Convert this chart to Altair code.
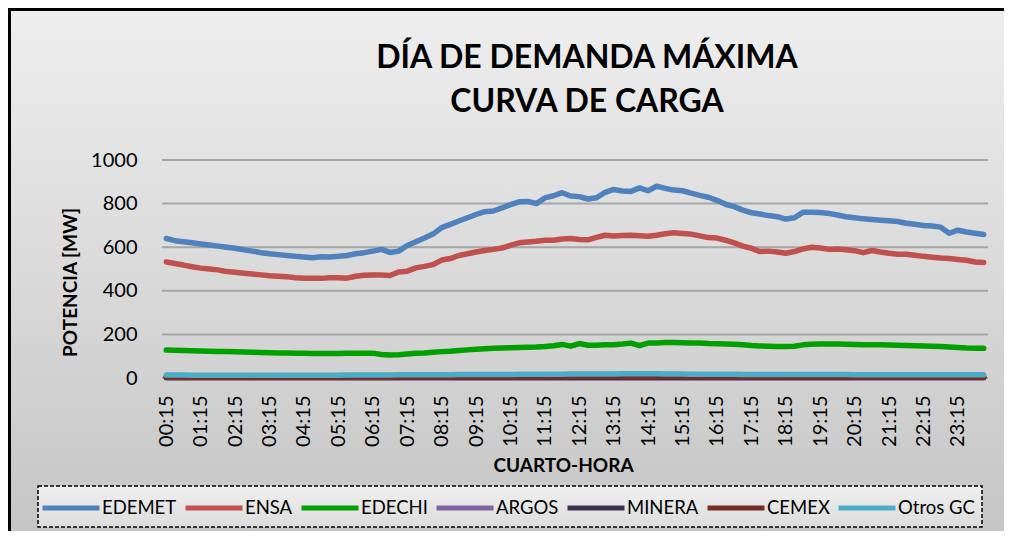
import altair as alt
import pandas as pd

TIMES = [
    "00:15", "00:30", "00:45", "01:00", "01:15", "01:30", "01:45", "02:00", "02:15", "02:30", "02:45", "03:00",
    "03:15", "03:30", "03:45", "04:00", "04:15", "04:30", "04:45", "05:00", "05:15", "05:30", "05:45", "06:00",
    "06:15", "06:30", "06:45", "07:00", "07:15", "07:30", "07:45", "08:00", "08:15", "08:30", "08:45", "09:00",
    "09:15", "09:30", "09:45", "10:00", "10:15", "10:30", "10:45", "11:00", "11:15", "11:30", "11:45", "12:00",
    "12:15", "12:30", "12:45", "13:00", "13:15", "13:30", "13:45", "14:00", "14:15", "14:30", "14:45", "15:00",
    "15:15", "15:30", "15:45", "16:00", "16:15", "16:30", "16:45", "17:00", "17:15", "17:30", "17:45", "18:00",
    "18:15", "18:30", "18:45", "19:00", "19:15", "19:30", "19:45", "20:00", "20:15", "20:30", "20:45", "21:00",
    "21:15", "21:30", "21:45", "22:00", "22:15", "22:30", "22:45", "23:00", "23:15", "23:30", "23:45", "24:00",
]

TICK_LABELS = [
    "00:15", "01:15", "02:15", "03:15", "04:15", "05:15", "06:15", "07:15", "08:15", "09:15", "10:15", "11:15",
    "12:15", "13:15", "14:15", "15:15", "16:15", "17:15", "18:15", "19:15", "20:15", "21:15", "22:15", "23:15",
]

Y_TICKS = [0, 200, 400, 600, 800, 1000]

EDEMET = [
    640, 630, 625, 620, 615, 610, 605, 600, 595, 588, 582, 575,
    570, 566, 562, 558, 555, 552, 556, 555, 558, 562, 570, 575,
    582, 590, 576, 582, 608, 625, 642, 660, 690, 705, 720, 735,
    750, 763, 766, 780, 795, 808, 810, 800, 826, 836, 850, 835,
    832, 821, 827, 852, 865, 858, 856, 872, 859, 880, 870, 862,
    859, 848, 838, 829, 815, 797, 786, 770, 758, 752, 745, 740,
    729, 735, 760, 760, 759, 755, 748, 740, 735, 730, 727, 724,
    721, 718, 710, 705, 700, 697, 692, 664, 678, 670, 664, 658,
]

ENSA = [
    532, 525, 518, 510, 504, 500, 496, 488, 485, 481, 477, 473,
    469, 467, 465, 460, 458, 458, 457, 460, 460, 458, 467, 471,
    473, 472, 470, 486, 490, 505, 512, 520, 541, 548, 562, 570,
    578, 585, 590, 596, 608, 620, 624, 627, 632, 632, 638, 640,
    635, 634, 645, 655, 651, 654, 655, 653, 650, 655, 662, 666,
    663, 660, 652, 644, 642, 632, 620, 605, 595, 580, 582, 578,
    572, 580, 592, 600, 596, 590, 592, 588, 584, 575, 585, 578,
    572, 568, 568, 563, 558, 554, 550, 548, 544, 540, 532, 530,
]

EDECHI = [
    128, 127, 126, 125, 124, 123, 122, 121, 120, 119, 118, 117,
    116, 115, 115, 114, 113, 112, 112, 112, 112, 113, 113, 114,
    114, 108, 106, 107, 110, 113, 115, 118, 121, 123, 126, 129,
    132, 134, 136, 138, 139, 140, 141, 142, 144, 148, 154, 146,
    158, 150, 150, 152, 153, 156, 160, 148, 160, 161, 163, 163,
    162, 161, 160, 158, 157, 156, 155, 152, 149, 147, 146, 145,
    145, 146, 152, 155, 156, 156, 156, 155, 154, 153, 153, 152,
    151, 150, 149, 148, 147, 146, 144, 142, 140, 138, 137, 136,
]

ARGOS = [
    1, 1, 1, 1, 1, 1, 1, 1, 1, 1, 1, 1,
    1, 1, 1, 1, 1, 1, 1, 1, 1, 1, 1, 1,
    1, 1, 1, 1, 1, 1, 1, 1, 1, 1, 1, 1,
    1, 1, 1, 1, 1, 1, 1, 1, 1, 1, 1, 1,
    1, 1, 1, 1, 1, 1, 1, 1, 1, 1, 1, 1,
    1, 1, 1, 1, 1, 1, 1, 1, 1, 1, 1, 1,
    1, 1, 1, 1, 1, 1, 1, 1, 1, 1, 1, 1,
    1, 1, 1, 1, 1, 1, 1, 1, 1, 1, 1, 1,
]

MINERA = [
    2, 2, 2, 2, 2, 2, 2, 2, 2, 2, 2, 2,
    2, 2, 2, 2, 2, 2, 2, 2, 2, 2, 2, 2,
    2, 2, 2, 2, 2, 2, 2, 2, 2, 2, 2, 2,
    2, 2, 2, 2, 2, 2, 2, 2, 2, 2, 2, 2,
    2, 2, 2, 2, 2, 2, 2, 2, 2, 2, 2, 2,
    2, 2, 2, 2, 2, 2, 2, 2, 2, 2, 2, 2,
    2, 2, 2, 2, 2, 2, 2, 2, 2, 2, 2, 2,
    2, 2, 2, 2, 2, 2, 2, 2, 2, 2, 2, 2,
]

CEMEX = [
    3, 3, 3, 3, 3, 3, 3, 3, 3, 3, 3, 3,
    3, 3, 3, 3, 3, 3, 3, 3, 3, 3, 3, 3,
    3, 4, 4, 4, 4, 4, 4, 4, 4, 4, 4, 5,
    5, 5, 5, 5, 5, 5, 5, 5, 5, 6, 6, 6,
    6, 6, 6, 6, 6, 6, 6, 7, 6, 6, 6, 6,
    6, 6, 5, 5, 5, 5, 5, 5, 5, 5, 5, 5,
    4, 4, 4, 4, 4, 4, 4, 4, 4, 4, 4, 4,
    4, 4, 4, 4, 4, 4, 4, 4, 4, 4, 4, 4,
]

OTROS_GC = [
    14, 14, 14, 13, 13, 13, 13, 13, 13, 13, 13, 13,
    13, 13, 13, 13, 13, 13, 13, 13, 13, 14, 14, 14,
    14, 14, 14, 15, 15, 15, 15, 15, 15, 15, 16, 16,
    16, 16, 16, 16, 16, 17, 17, 17, 17, 17, 17, 18,
    18, 18, 18, 18, 18, 19, 19, 19, 19, 19, 18, 18,
    18, 17, 17, 17, 17, 17, 17, 16, 16, 16, 16, 16,
    16, 16, 16, 16, 16, 16, 16, 16, 15, 15, 15, 15,
    15, 15, 15, 15, 15, 15, 15, 15, 15, 15, 15, 15,
]

SERIES = ["EDEMET", "ENSA", "EDECHI", "ARGOS", "MINERA", "CEMEX", "Otros GC"]
COLORS = ["#4f81bd", "#c0504d", "#00a000", "#8064a2", "#403152", "#772c2a", "#4bacc6"]
VALUES = [EDEMET, ENSA, EDECHI, ARGOS, MINERA, CEMEX, OTROS_GC]

rows = []
for name, vals in zip(SERIES, VALUES):
    for t, v in zip(TIMES, vals):
        rows.append({"t": t, "serie": name, "mw": v})
df = pd.DataFrame(rows)

FONT = "Lato"
W, H = 826, 218
PAD_L, PAD_T, PAD_R, PAD_B = 154, 152, 16, 153

gradient = alt.Gradient(
    gradient="linear",
    stops=[alt.GradientStop(color="#eeeeee", offset=0),
           alt.GradientStop(color="#c4c4c4", offset=1)],
    x1=0, x2=0, y1=0, y2=1,
)

legend_grad = alt.Gradient(
    gradient="linear",
    stops=[alt.GradientStop(color="#f0f0f0", offset=0),
           alt.GradientStop(color="#dcdcdc", offset=1)],
    x1=0, x2=0, y1=0, y2=1,
)

one = pd.DataFrame({"a": [0]})

bg = alt.Chart(one).mark_rect(
    fill=gradient, stroke="black", strokeWidth=3
).encode(
    x=alt.value(-PAD_L + 1.5), x2=alt.value(W + PAD_R + 20),
    y=alt.value(-PAD_T + 1.5), y2=alt.value(H + PAD_B + 20),
)

legend_box = alt.Chart(one).mark_rect(
    fill=legend_grad, stroke="black", strokeWidth=1.5, strokeDash=[4, 2]
).encode(
    x=alt.value(-124), x2=alt.value(820),
    y=alt.value(326), y2=alt.value(367),
)

yscale = alt.Scale(domain=[0, 1000])

y_axis = alt.Axis(values=Y_TICKS, format="d", ticks=False, tickSize=0, domain=False, grid=False,
                  labelPadding=25, zindex=1, labelFont=FONT, labelFontSize=20,
                  labelColor="black",
                  title="POTENCIA [MW]", titleFont=FONT, titleFontSize=19,
                  titleFontWeight="bold", titleColor="black", titleAngle=-90,
                  titleX=-92, titleY=122, titleAlign="center", titleBaseline="middle")

grid = alt.Chart(pd.DataFrame({"v": Y_TICKS})).mark_rule(
    color="#a6a6a6", strokeWidth=2
).encode(y=alt.Y("v:Q", scale=yscale, axis=y_axis, title="POTENCIA [MW]"))

lines = alt.Chart(df).mark_line(
    strokeWidth=5.5, strokeCap="round", strokeJoin="round"
).encode(
    x=alt.X("t:O", sort=TIMES, scale=alt.Scale(type="point", padding=0.5),
            axis=alt.Axis(values=TICK_LABELS, labelAngle=-90, ticks=False, tickSize=0,
                          domain=False, grid=False, labelPadding=17, zindex=1,
                          labelFont=FONT, labelFontSize=20, labelColor="black",
                          title="CUARTO-HORA", titleFont=FONT, titleFontSize=19,
                          titleFontWeight="bold", titleColor="black",
                          titleX=401, titleY=87, titleAlign="center", titleBaseline="middle")),
    y=alt.Y("mw:Q", scale=yscale, axis=y_axis, title="POTENCIA [MW]"),
    color=alt.Color("serie:N", scale=alt.Scale(domain=SERIES, range=COLORS),
                    legend=alt.Legend(title=None, orient="none", legendX=-127, legendY=312,
                                      direction="horizontal", columns=7, symbolType="stroke",
                                      symbolSize=3249, symbolStrokeWidth=5, labelFont=FONT,
                                      labelFontSize=18.5, labelColor="black", labelOffset=0,
                                      columnPadding=-2, padding=5, zindex=2)),
)

chart = alt.layer(bg, legend_box, grid, lines).properties(
    width=W, height=H,
    padding={"left": PAD_L, "top": PAD_T, "right": PAD_R, "bottom": PAD_B},
    autosize=alt.AutoSizeParams(type="none"),
    title=alt.TitleParams(text=["DÍA DE DEMANDA MÁXIMA", "CURVA DE CARGA"], font=FONT,
                          fontSize=32, fontWeight="bold", color="black", anchor="middle",
                          lineHeight=44, dx=12, offset=-111, zindex=2),
).configure_view(stroke=None)

chart.save("out.html", embed_options={"renderer": "svg", "actions": False})
